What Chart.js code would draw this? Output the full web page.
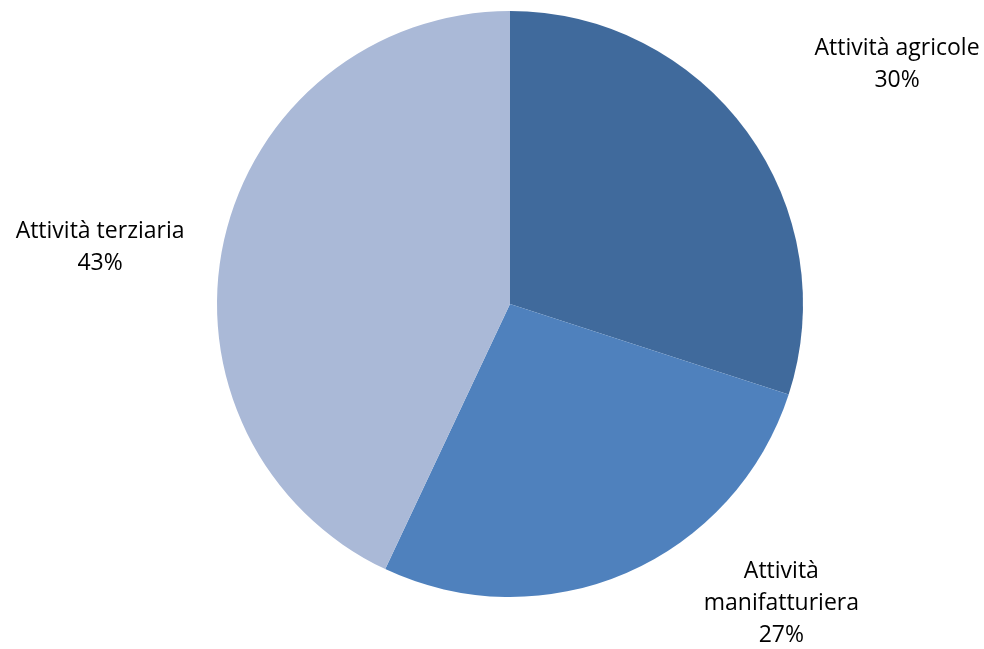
<!DOCTYPE html>
<html lang="it">
<head>
  <meta charset="UTF-8" />
  <title>Attività</title>
  <script src="https://cdn.jsdelivr.net/npm/chart.js"></script>
  <style>
    html, body {
      margin: 0;
      padding: 0;
      background: #ffffff;
    }
    .chart-container {
      width: 984px;
      height: 649px;
    }
  </style>
</head>
<body>
  <div class="chart-container">
    <canvas id="pieChart"></canvas>
  </div>

  <script>
    const categories = ['Attività agricole', 'Attività manifatturiera', 'Attività terziaria'];
    const values = [30, 27, 43];
    // how each category label is wrapped in the picture
    const labelLines = [['Attività agricole'], ['Attività', 'manifatturiera'], ['Attività terziaria']];
    const sliceColors = ['#406A9C', '#4F81BD', '#AAB9D7'];
    // shift of each label block from the slice's outer mid point
    const labelOffsets = [[150, -67], [155, 31], [-124, 7]];

    const outsideLabels = {
      id: 'outsideLabels',
      afterDraw(chart) {
        const ctx = chart.ctx;
        const meta = chart.getDatasetMeta(0);
        const total = values.reduce((a, b) => a + b, 0);
        const lineH = 32;
        ctx.save();
        ctx.font = '23px "Open Sans", sans-serif';
        ctx.fillStyle = '#000000';
        ctx.textAlign = 'center';
        ctx.textBaseline = 'middle';
        meta.data.forEach((arc, i) => {
          const mid = (arc.startAngle + arc.endAngle) / 2;
          const x = arc.x + Math.cos(mid) * arc.outerRadius + labelOffsets[i][0];
          const y = arc.y + Math.sin(mid) * arc.outerRadius + labelOffsets[i][1];
          const lines = labelLines[i].concat([Math.round(values[i] / total * 100) + '%']);
          const top = y - (lines.length - 1) * lineH / 2;
          lines.forEach((t, k) => ctx.fillText(t, x, top + k * lineH));
        });
        ctx.restore();
      }
    };

    new Chart(document.getElementById('pieChart'), {
      type: 'pie',
      data: {
        labels: categories,
        datasets: [{
          data: values,
          backgroundColor: sliceColors,
          borderWidth: 0
        }]
      },
      options: {
        responsive: true,
        maintainAspectRatio: false,
        animation: false,
        layout: {
          padding: { top: 11, bottom: 52, left: 36, right: 0 }
        },
        plugins: {
          legend: { display: false },
          tooltip: { enabled: false }
        }
      },
      plugins: [outsideLabels]
    });
  </script>
</body>
</html>
